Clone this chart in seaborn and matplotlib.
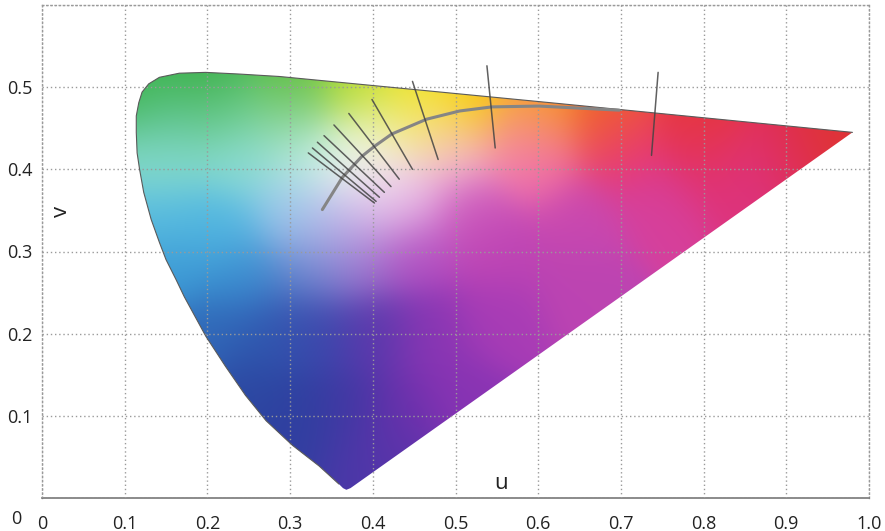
"""
CIE 1960 (u, v) chromaticity diagram with the Planckian locus
and isotemperature lines.
"""
import numpy as np
import pandas as pd
import matplotlib
matplotlib.use("Agg")
import matplotlib.pyplot as plt
import seaborn as sns
from matplotlib.path import Path
from matplotlib.patches import PathPatch
from matplotlib import transforms
from matplotlib.colors import to_rgb

# outline of the colour area: spectral locus, then line of purples back to red
locus_u = [0.980, 0.626, 0.287, 0.238, 0.198, 0.166, 0.142, 0.129, 0.121, 0.117,
           0.114, 0.114, 0.115, 0.118, 0.123, 0.132, 0.142, 0.150, 0.162, 0.172,
           0.198, 0.222, 0.246, 0.271, 0.303, 0.335, 0.359, 0.364, 0.368,
           0.373]
locus_v = [0.445, 0.480, 0.513, 0.516, 0.518, 0.517, 0.512, 0.504, 0.494, 0.481,
           0.465, 0.445, 0.420, 0.400, 0.372, 0.339, 0.311, 0.290, 0.266, 0.245,
           0.197, 0.160, 0.125, 0.094, 0.064, 0.039, 0.017, 0.012, 0.010,
           0.012]
n_spectral = 27  # points that belong to the spectral locus

# Planckian locus
planck_u = [0.339, 0.363, 0.387, 0.402, 0.423, 0.465, 0.505, 0.544, 0.601, 0.698]
planck_v = [0.351, 0.390, 0.416, 0.428, 0.443, 0.461, 0.471, 0.476, 0.477, 0.472]

# isotemperature lines (start / end)
iso_u0 = [0.322, 0.327, 0.333, 0.341, 0.353, 0.371, 0.399, 0.448, 0.538, 0.745]
iso_v0 = [0.420, 0.426, 0.433, 0.441, 0.454, 0.468, 0.485, 0.507, 0.526, 0.518]
iso_u1 = [0.402, 0.404, 0.408, 0.414, 0.422, 0.432, 0.448, 0.479, 0.548, 0.737]
iso_v1 = [0.359, 0.361, 0.366, 0.372, 0.379, 0.388, 0.400, 0.412, 0.426, 0.417]

# colour samples (u, v, colour)
anchor_u = [0.13, 0.20, 0.30, 0.38, 0.45, 0.52, 0.60, 0.68, 0.80, 0.95,
            0.15, 0.22, 0.30, 0.15, 0.24, 0.32, 0.37, 0.40, 0.46, 0.42,
            0.50, 0.58, 0.60, 0.70, 0.80, 0.90, 0.15, 0.22, 0.30, 0.34,
            0.38, 0.44, 0.16, 0.24, 0.32, 0.38, 0.45, 0.52, 0.55, 0.65,
            0.75, 0.85, 0.20, 0.27, 0.33, 0.40, 0.47, 0.55, 0.65, 0.25,
            0.31, 0.37, 0.44, 0.50, 0.30, 0.37, 0.42]
anchor_v = [0.500, 0.515, 0.505, 0.495, 0.490, 0.480, 0.472, 0.462, 0.450, 0.443,
            0.460, 0.470, 0.460, 0.410, 0.410, 0.410, 0.400, 0.440, 0.450, 0.380,
            0.420, 0.440, 0.410, 0.420, 0.410, 0.420, 0.340, 0.330, 0.350, 0.330,
            0.345, 0.360, 0.280, 0.270, 0.280, 0.290, 0.300, 0.350, 0.300, 0.340,
            0.360, 0.390, 0.200, 0.200, 0.200, 0.200, 0.200, 0.220, 0.260, 0.130,
            0.100, 0.100, 0.100, 0.120, 0.050, 0.030, 0.050]
anchor_colors = ['#3cb44a', '#3aae44', '#5cbc3c', '#b8dc30', '#f2e41c', '#f8d000',
                 '#f8a010', '#f06028', '#e63838', '#e03434', '#68c8a0', '#6ccc90',
                 '#90d8a8', '#88dcd0', '#8cdcd4', '#b8ece0', '#f6fbf8', '#f0f6c8',
                 '#f6e890', '#f6eaf4', '#f6b8d8', '#f690b0', '#f06aa8', '#e8387a',
                 '#e4306c', '#e02e5a', '#58bce0', '#52b8e2', '#98c8ec', '#b8c0ec',
                 '#d0b0e8', '#e4a4e0', '#3c9ad6', '#3a8cd0', '#6080cc', '#9a70cc',
                 '#b04cc0', '#cc58bc', '#be44b4', '#c848b0', '#d6409c', '#dc3480',
                 '#3068b8', '#3058b0', '#3a48ac', '#5a38ac', '#8a36b4', '#a83cb6',
                 '#bc44b2', '#2c48a2', '#2e40a0', '#4238a4', '#6a30ac', '#8a34b4',
                 '#3040a0', '#4a38a8', '#5a34aa']

x_ticks = [0, 0.1, 0.2, 0.3, 0.4, 0.5, 0.6, 0.7, 0.8, 0.9, 1.0]
x_tick_labels = ["0", "0.1", "0.2", "0.3", "0.4", "0.5", "0.6", "0.7", "0.8", "0.9", "1.0"]
y_ticks = [0, 0.1, 0.2, 0.3, 0.4, 0.5, 0.6]
y_tick_labels = ["0", "0.1", "0.2", "0.3", "0.4", "0.5", ""]


def colour_field(nu=500, nv=300, sigma=0.035):
    """Smooth colour image from the sampled colours (kernel weighted)"""
    gu, gv = np.meshgrid(np.linspace(0, 1, nu), np.linspace(0, 0.6, nv))
    au = np.array(anchor_u)
    av = np.array(anchor_v)
    rgb = np.array([to_rgb(c) for c in anchor_colors])
    d2 = (gu[..., None] - au) ** 2 + (gv[..., None] - av) ** 2
    w = np.exp(-d2 / (2 * sigma ** 2)) + 1e-12
    img = (w[..., None] * rgb).sum(axis=2) / w.sum(axis=2)[..., None]
    return np.clip(img, 0, 1)


sns.set_theme(style="whitegrid")
plt.rcParams["font.family"] = ["Open Sans", "DejaVu Sans"]

fig, ax = plt.subplots(figsize=(8.85, 5.31), dpi=100)
fig.subplots_adjust(left=42 / 885, right=869 / 885, bottom=33 / 531, top=526 / 531)

# colour area, clipped to the outline
outline = Path(np.column_stack([locus_u + [locus_u[0]], locus_v + [locus_v[0]]]), closed=True)
patch = PathPatch(outline, transform=ax.transData, facecolor="none", edgecolor="none")
im = ax.imshow(colour_field(), origin="lower", extent=(0, 1, 0, 0.6),
               interpolation="bilinear", aspect="auto", zorder=0)
im.set_clip_path(patch)

# thin edge along the spectral locus
spectral = pd.DataFrame({"u": locus_u[:n_spectral], "v": locus_v[:n_spectral]})
sns.lineplot(data=spectral, x="u", y="v", sort=False, estimator=None,
             color="#5a5a5a", linewidth=0.8, ax=ax, zorder=3)

# Planckian locus
planck = pd.DataFrame({"u": planck_u, "v": planck_v})
sns.lineplot(data=planck, x="u", y="v", sort=False, estimator=None,
             color="#858585", linewidth=2.2, ax=ax, zorder=4)

# isotemperature lines
iso = pd.DataFrame({
    "u": iso_u0 + iso_u1,
    "v": iso_v0 + iso_v1,
    "line": list(range(len(iso_u0))) * 2,
})
sns.lineplot(data=iso, x="u", y="v", units="line", estimator=None, sort=False,
             color="#444444", linewidth=1.1, alpha=0.85, ax=ax, zorder=5)

ax.set_xlim(0, 1)
ax.set_ylim(0, 0.6)
ax.set_xticks(x_ticks)
ax.set_xticklabels(x_tick_labels)
ax.set_yticks(y_ticks)
ax.set_yticklabels(y_tick_labels)
ax.set_xlabel("")
ax.set_ylabel("")
ax.set_axisbelow(False)
ax.grid(True, color="#9a9a9a", linestyle=(0, (1, 2)), linewidth=1.0)
ax.tick_params(axis="x", direction="in", length=4, color="#888888", pad=12,
               labelsize=13, labelcolor="#222222")
ax.tick_params(axis="y", direction="in", length=4, color="#888888", pad=7,
               labelsize=13, labelcolor="#222222")
for side in ["top", "right", "left"]:
    ax.spines[side].set_color("#9a9a9a")
    ax.spines[side].set_linestyle((0, (1, 2)))
    ax.spines[side].set_linewidth(1.0)
ax.spines["bottom"].set_color("#777777")
ax.spines["bottom"].set_linestyle((0, (1, 1)))
ax.spines["bottom"].set_linewidth(1.2)

# the "0" on the v axis sits lower and further left in the original
zero_label = ax.get_yticklabels()[0]
zero_label.set_transform(zero_label.get_transform()
                         + transforms.ScaledTranslation(-0.11, -0.19, fig.dpi_scale_trans))

ax.text(0.023, 0.349, "v", rotation=90, ha="center", va="center", fontsize=16, color="#222222")
ax.text(0.555, 0.018, "u", ha="center", va="center", fontsize=16, color="#222222")

plt.savefig("out.png", dpi=100)
